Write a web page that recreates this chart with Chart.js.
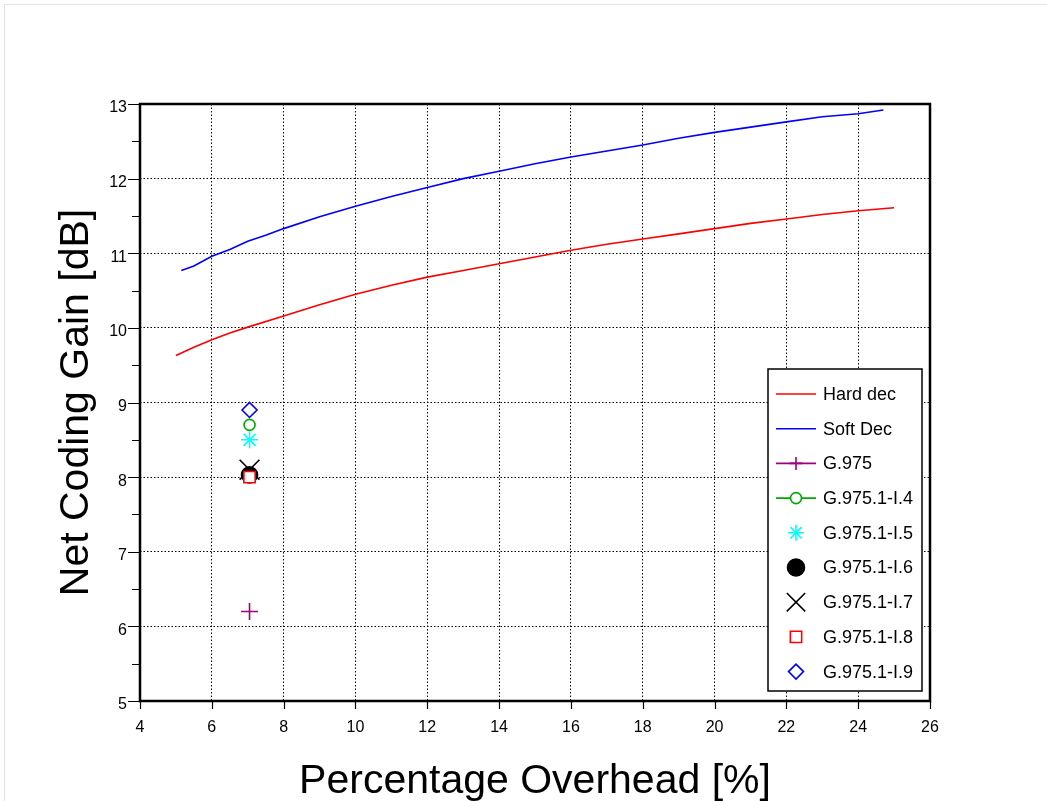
<!DOCTYPE html>
<html>
<head>
<meta charset="utf-8">
<script src="https://cdn.jsdelivr.net/npm/chart.js@4/dist/chart.umd.min.js"></script>
<style>
  html, body { margin: 0; padding: 0; background: #fff; }
  #wrap { width: 1047px; height: 801px; }
</style>
</head>
<body>
<div id="wrap"><canvas id="my-chart" width="1047" height="801"></canvas></div>
<script>
// curves
const hardX = [5.0, 5.5, 6, 6.5, 7, 8, 9, 10, 11, 12, 13, 14, 15, 16, 17, 18, 19, 20, 21, 22, 23, 24, 25];
const hardY = [9.63, 9.74, 9.84, 9.93, 10.01, 10.16, 10.31, 10.45, 10.57, 10.68, 10.77, 10.86, 10.95, 11.04, 11.12, 11.19, 11.26, 11.33, 11.40, 11.46, 11.52, 11.57, 11.61];
const softX = [5.15, 5.5, 6, 6.5, 7, 7.5, 8, 9, 10, 11, 12, 13, 14, 15, 16, 17, 18, 19, 20, 21, 22, 23, 24, 24.7];
const softY = [10.77, 10.83, 10.96, 11.05, 11.16, 11.24, 11.33, 11.49, 11.63, 11.76, 11.88, 12.00, 12.10, 12.20, 12.29, 12.37, 12.45, 12.54, 12.62, 12.69, 12.76, 12.83, 12.87, 12.92];

// single recommendation points
const markNames = ['G.975', 'G.975.1-I.4', 'G.975.1-I.5', 'G.975.1-I.6', 'G.975.1-I.7', 'G.975.1-I.8', 'G.975.1-I.9'];
const markX = [7.05, 7.05, 7.05, 7.05, 7.05, 7.05, 7.05];
const markY = [6.2, 8.7, 8.5, 8.03, 8.1, 8.0, 8.9];

const xTicks = [4, 6, 8, 10, 12, 14, 16, 18, 20, 22, 24, 26];
const yTicks = [5, 6, 7, 8, 9, 10, 11, 12, 13];

const FONT = "'Liberation Sans', Arial, sans-serif";

// marker look for each point series (legend radius in lr)
const markStyle = [
  {pointStyle: 'cross',    radius: 8.5, lr: 6.5, color: '#A0007A', fill: 'rgba(0,0,0,0)', legendLine: true},
  {pointStyle: 'circle',   radius: 5.5, lr: 5.5, color: '#00A800', fill: '#fff', legendLine: true},
  {pointStyle: 'star',     radius: 8.5, lr: 8,   color: '#00FFFF', fill: 'rgba(0,0,0,0)'},
  {pointStyle: 'circle',   radius: 8,   lr: 8.5, color: '#000000', fill: '#000000'},
  {pointStyle: 'crossRot', radius: 14,  lr: 13,  color: '#000000', fill: 'rgba(0,0,0,0)'},
  {pointStyle: 'rect',     radius: 8,   lr: 8,   color: '#FF0000', fill: '#fff'},
  {pointStyle: 'rectRot',  radius: 7.5, lr: 7.5, color: '#0000FF', fill: '#fff'}
];

const toXY = (xs, ys) => xs.map((x, i) => ({x: x, y: ys[i]}));

// lower order is drawn on top
let datasets = [
  {label: 'Hard dec', data: toXY(hardX, hardY), showLine: true, borderColor: '#FF0000', borderWidth: 1.6, pointRadius: 0, tension: 0, legendLine: true, order: 20},
  {label: 'Soft Dec', data: toXY(softX, softY), showLine: true, borderColor: '#0000FF', borderWidth: 1.6, pointRadius: 0, tension: 0, legendLine: true, order: 19}
];
markNames.forEach((name, i) => {
  const s = markStyle[i];
  datasets.push({
    label: name,
    data: [{x: markX[i], y: markY[i]}],
    showLine: false,
    pointStyle: s.pointStyle,
    pointRadius: s.radius,
    legendRadius: s.lr,
    borderColor: s.color,
    backgroundColor: s.fill,
    pointBorderWidth: 1.6,
    legendLine: !!s.legendLine,
    legendMarker: true,
    order: 10 - i
  });
});

// frame, small ticks and outer grey border
const framePlugin = {
  id: 'frame',
  beforeDraw(chart) {
    const c = chart.ctx;
    c.save();
    c.fillStyle = '#fff';
    c.fillRect(0, 0, chart.width, chart.height);
    c.strokeStyle = '#e4e4e4';
    c.lineWidth = 1;
    c.strokeRect(4.5, 4.5, chart.width + 20, chart.height + 20);
    c.restore();
  },
  afterDatasetsDraw(chart) {
    const c = chart.ctx, a = chart.chartArea;
    const xs = chart.scales.x, ys = chart.scales.y;
    c.save();
    c.strokeStyle = '#000';
    c.lineWidth = 1.2;
    c.beginPath();
    for (let v = 5; v <= 13.001; v += 0.5) {
      const py = Math.round(ys.getPixelForValue(v)) + 0.5;
      const len = (v % 1 === 0) ? 12 : 8;
      c.moveTo(a.left - len, py); c.lineTo(a.left, py);
    }
    xTicks.forEach(v => {
      const px = Math.round(xs.getPixelForValue(v)) + 0.5;
      c.moveTo(px, a.bottom); c.lineTo(px, a.bottom + 8);
    });
    c.stroke();
    c.lineWidth = 2.5;
    c.strokeRect(a.left, a.top, a.right - a.left, a.bottom - a.top);
    c.restore();
  }
};

// legend box inside the plot, lower right
const legendPlugin = {
  id: 'boxLegend',
  afterDraw(chart) {
    const c = chart.ctx;
    const bx = 768, by = 369, bw = 154, bh = 322;
    c.save();
    c.fillStyle = '#fff';
    c.fillRect(bx, by, bw, bh);
    c.strokeStyle = '#000';
    c.lineWidth = 1.5;
    c.strokeRect(bx, by, bw, bh);
    c.font = '18px ' + FONT;
    c.textBaseline = 'middle';
    chart.data.datasets.forEach((ds, i) => {
      const y = by + 25 + i * 34.7;
      if (ds.legendLine) {
        c.strokeStyle = ds.borderColor;
        c.lineWidth = 1.6;
        c.beginPath();
        c.moveTo(bx + 8, y); c.lineTo(bx + 48, y);
        c.stroke();
      }
      if (ds.legendMarker) {
        c.strokeStyle = ds.borderColor;
        c.fillStyle = ds.backgroundColor;
        c.lineWidth = 1.6;
        Chart.helpers.drawPoint(c, {pointStyle: ds.pointStyle, radius: ds.legendRadius, rotation: 0, borderWidth: 1.6}, bx + 28, y);
      }
      c.fillStyle = '#000';
      c.fillText(ds.label, bx + 55, y + 1);
    });
    c.restore();
  }
};

new Chart(document.getElementById('my-chart').getContext('2d'), {
  type: 'scatter',
  data: {datasets: datasets},
  options: {
    responsive: false,
    animation: false,
    events: [],
    layout: {padding: {top: 104, right: 117, left: 0, bottom: 0}},
    plugins: {legend: {display: false}, tooltip: {enabled: false}},
    scales: {
      x: {
        type: 'linear', min: 4, max: 26,
        afterBuildTicks: s => { s.ticks = xTicks.map(v => ({value: v})); },
        afterFit: s => { s.height = 100; },
        border: {display: false, dash: [1.5, 2]},
        grid: {color: '#000', lineWidth: 1, drawTicks: false},
        ticks: {color: '#000', padding: 17, font: {family: FONT, size: 16}, maxRotation: 0},
        title: {display: true, text: 'Percentage Overhead [%]', color: '#000', font: {family: FONT, size: 41}, padding: {top: 0, bottom: -5}}
      },
      y: {
        type: 'linear', min: 5, max: 13,
        afterBuildTicks: s => { s.ticks = yTicks.map(v => ({value: v})); },
        afterFit: s => { s.width = 140; },
        border: {display: false, dash: [1.5, 2]},
        grid: {color: '#000', lineWidth: 1, drawTicks: false},
        ticks: {color: '#000', padding: 13, labelOffset: 4, font: {family: FONT, size: 16}},
        title: {display: true, text: 'Net Coding Gain [dB]', color: '#000', font: {family: FONT, size: 41}, padding: {top: 52, bottom: 0}}
      }
    }
  },
  plugins: [framePlugin, legendPlugin]
});
</script>
</body>
</html>
